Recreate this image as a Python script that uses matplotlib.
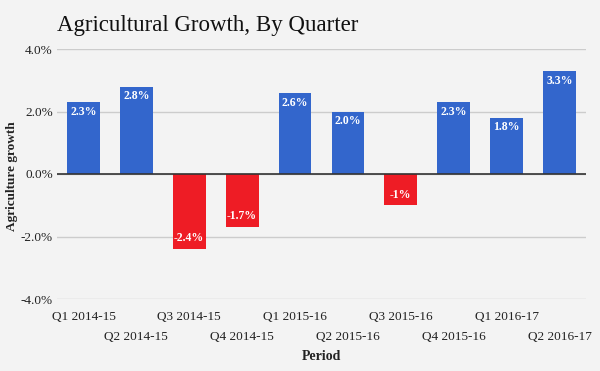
import numpy as np
import matplotlib.pyplot as plt

periods = ['Q1 2014-15', 'Q2 2014-15', 'Q3 2014-15', 'Q4 2014-15',
           'Q1 2015-16', 'Q2 2015-16', 'Q3 2015-16', 'Q4 2015-16',
           'Q1 2016-17', 'Q2 2016-17']
growth = [2.3, 2.8, -2.4, -1.7, 2.6, 2.0, -1.0, 2.3, 1.8, 3.3]
labels = ['2.3%', '2.8%', '-2.4%', '-1.7%', '2.6%', '2.0%', '-1%', '2.3%', '1.8%', '3.3%']

bg = '#f3f3f3'
plt.rcParams['font.family'] = ['Liberation Serif', 'DejaVu Serif']

fig = plt.figure(figsize=(6, 3.71), dpi=100, facecolor=bg)
ax = fig.add_axes([57 / 600, 1 - 299 / 371, 529 / 600, 250 / 371])
ax.set_facecolor(bg)

x = np.arange(len(periods))
colors = ['#3366cc' if v >= 0 else '#ee1c25' for v in growth]
ax.bar(x, growth, width=0.62, color=colors, zorder=3)

for xi, v, lab in zip(x, growth, labels):
    if v >= 0:
        ax.text(xi, v - 0.12, lab, ha='center', va='top', color='white',
                fontsize=8.5, fontweight='bold', zorder=4)
    else:
        ax.text(xi, v + 0.15, lab, ha='center', va='bottom', color='white',
                fontsize=8.5, fontweight='bold', zorder=4)

ax.set_xlim(-0.5, len(periods) - 0.5)
ax.set_ylim(-4, 4)
ax.set_yticks([-4, -2, 0, 2, 4])
ax.set_yticklabels(['-4.0%', '-2.0%', '0.0%', '2.0%', '4.0%'], fontsize=9.5, color='#222222')
ax.grid(axis='y', color='#cccccc', linewidth=1, zorder=0)
ax.axhline(0, color='#333333', linewidth=1.2, zorder=5)

# staggered period labels: even ones on major ticks, odd ones on minor ticks
ax.set_xticks(x[::2])
ax.set_xticklabels(periods[::2], fontsize=9.5, color='#222222')
ax.set_xticks(x[1::2], minor=True)
ax.set_xticklabels(periods[1::2], minor=True, fontsize=9.5, color='#222222')
ax.tick_params(axis='x', which='major', length=0, pad=9)
ax.tick_params(axis='x', which='minor', length=0, pad=23)
ax.tick_params(axis='y', length=0, pad=3)

for s in ax.spines.values():
    s.set_visible(False)

ax.set_xlabel('Period', fontsize=10, fontweight='bold', color='#222222')
ax.xaxis.set_label_coords(0.5, -0.204)
fig.text(12 / 600, 1 - 176 / 371, 'Agriculture growth', fontsize=9.5, fontweight='bold',
         color='#222222', rotation=90, va='center', ha='center')
fig.text(57 / 600, 1 - 25 / 371, 'Agricultural Growth, By Quarter', fontsize=16.5,
         color='#111111', va='center', ha='left')

fig.savefig('out.png', dpi=100, facecolor=bg)
